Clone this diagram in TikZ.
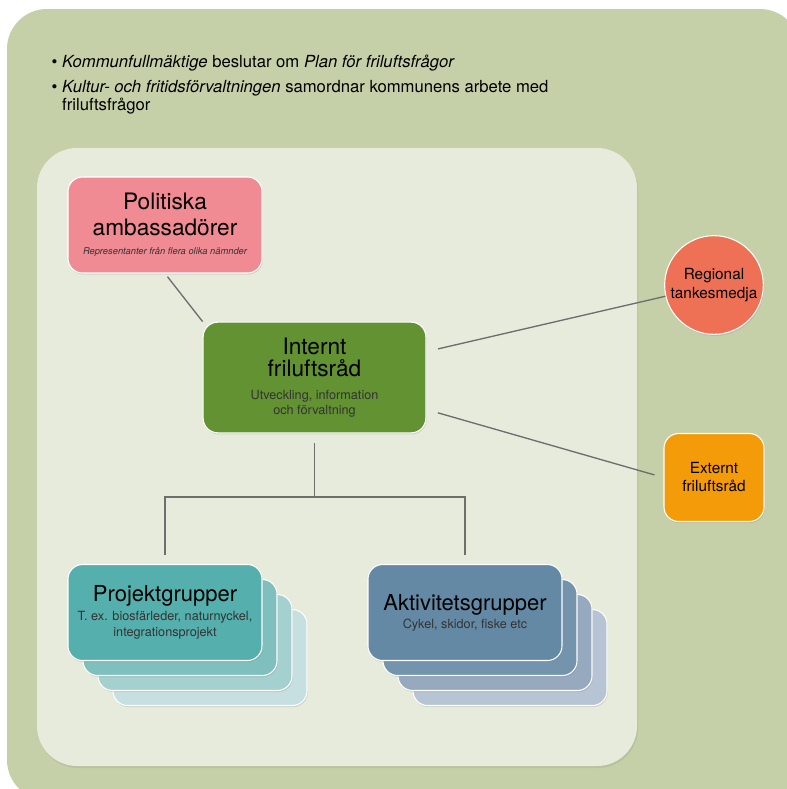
\documentclass[tikz,border=0pt]{standalone}
\usepackage{fontspec}
\setmainfont{TeX Gyre Heros}
\usepackage{xcolor}
\usetikzlibrary{positioning,shadows}

\definecolor{outerbg}{HTML}{C5D0A8}
\definecolor{innerbg}{HTML}{E7EBDC}
\definecolor{polpink}{HTML}{F08A93}
\definecolor{intgreen}{HTML}{629232}
\definecolor{regred}{HTML}{EE7055}
\definecolor{extorange}{HTML}{F49B0A}
\definecolor{linkgray}{HTML}{6E6E6E}
\definecolor{projA}{HTML}{55AFAC}
\definecolor{projB}{HTML}{7FBFBD}
\definecolor{projC}{HTML}{A5D0D0}
\definecolor{projD}{HTML}{C6DFE1}
\definecolor{aktA}{HTML}{6489A4}
\definecolor{aktB}{HTML}{7494AE}
\definecolor{aktC}{HTML}{96A9BF}
\definecolor{aktD}{HTML}{B7C4D4}

\newcommand{\fs}[2]{\fontsize{#1}{#2}\selectfont}
\newcommand{\subtxt}[1]{{\fs{9.5}{12}\color{black!80}#1}}

\tikzset{
  card/.style={draw=white, line width=0.8pt, rounded corners=11pt, align=center,
    drop shadow={shadow xshift=0.6pt, shadow yshift=-1.2pt, opacity=0.22}},
  link/.style={draw=linkgray, line width=1pt},
}

\begin{document}
\begin{tikzpicture}[x=0.75pt, y=-0.75pt]
\useasboundingbox (0,0) rectangle (787,789);
\begin{scope}
\clip (0,0) rectangle (787,789);
% background panels
\fill[outerbg, rounded corners=30pt] (7,9) rectangle (800,800);
\fill[innerbg, rounded corners=30pt,
  drop shadow={shadow xshift=0.8pt, shadow yshift=-1.5pt, opacity=0.18}] (37,148) rectangle (637,766);
\end{scope}

% bullets
\node[anchor=west, align=left, font=\fs{12.5}{13.5}] (b1) at (47,63)
  {\textbullet\ \textit{Kommunfullmäktige} beslutar om \textit{Plan för friluftsfrågor}};
\node[anchor=west, align=left, font=\fs{12.5}{13.5}] (b2) at (47,97)
  {\textbullet\ \textit{Kultur- och fritidsförvaltningen} samordnar kommunens arbete med\\
   \phantom{\textbullet\ }friluftsfrågor};

% Politiska
\node[card, fill=polpink, minimum width=145.5pt, minimum height=72pt, font=\fs{17}{19}] (Pol) at (165,225)
  {Politiska\\ambassadörer\\[-4.5pt]{\fs{7}{9}\itshape\color{black!80}Representanter från flera olika nämnder}};

% Internt
\node[card, fill=intgreen, minimum width=167pt, minimum height=83pt, font=\fs{17}{17}] (Int) at (314.5,377.5)
  {Internt\\friluftsråd\\[0pt]\subtxt{Utveckling, information}\\[-5.5pt]\subtxt{och förvaltning}};

% Regional
\node[card, circle, fill=regred, minimum size=74pt, inner sep=0pt, font=\fs{11.5}{14}] (Reg) at (714,285)
  {Regional\\tankesmedja};

% Externt
\node[card, fill=extorange, minimum width=75pt, minimum height=66pt, font=\fs{11.5}{13.5}] (Ext) at (714,477.5)
  {Externt\\friluftsråd};

% Projektgrupper stack
\foreach \k/\c in {3/projD,2/projC,1/projB}
  \node[card, fill=\c, minimum width=145.5pt, minimum height=72pt] (Proj\k) at (165+15*\k,612.5+15*\k) {};
\node[card, fill=projA, minimum width=145.5pt, minimum height=72pt, font=\fs{9.5}{12}] (Proj) at (165,612.5)
  {{\fs{16.5}{17}Projektgrupper}\\[2pt]\subtxt{T. ex. biosfärleder, naturnyckel,}\\\subtxt{integrationsprojekt}};

% Aktivitetsgrupper stack
\foreach \k/\c in {3/aktD,2/aktC,1/aktB}
  \node[card, fill=\c, minimum width=145.5pt, minimum height=72pt] (Akt\k) at (465+15*\k,612.5+15*\k) {};
\node[card, fill=aktA, minimum width=145.5pt, minimum height=72pt, font=\fs{9.5}{12}] (Akt) at (465,612.5)
  {{\fs{16.5}{17}Aktivitetsgrupper}\\[1.5pt]\subtxt{Cykel, skidor, fiske etc}};

% connectors
\coordinate (split) at (314.5,497);
\draw[link, shorten <=3pt] (Pol.south) -- (Int.north west);
\draw[link, shorten <=9pt] (Int) -- (Reg);
\draw[link, shorten <=9pt, shorten >=7pt] (Int) -- (Ext.west);
\draw[link, shorten <=7.5pt] (Int.south) -- (split);
\draw[link, shorten <=7pt, shorten >=7pt] (Proj.north) -- (Proj.north |- split) -- (Akt.north |- split) -- (Akt.north);
\end{tikzpicture}
\end{document}
